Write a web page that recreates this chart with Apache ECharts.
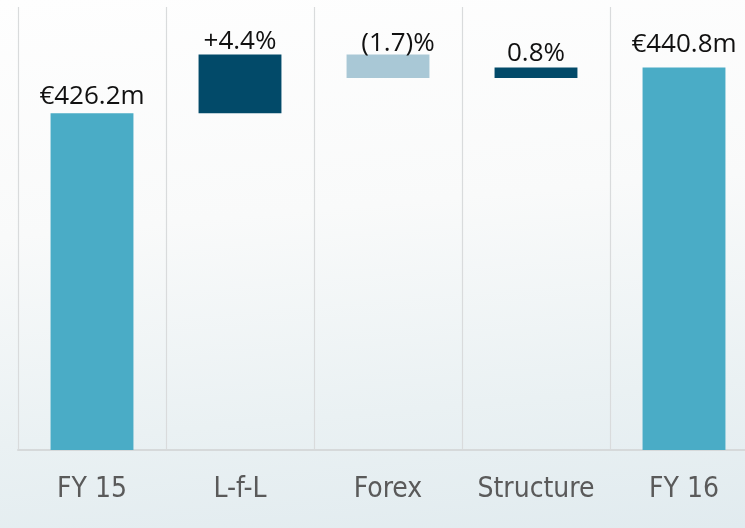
<!DOCTYPE html>
<html>
<head>
<meta charset="utf-8">
<script src="https://cdn.jsdelivr.net/npm/echarts@6/dist/echarts.min.js"></script>
<style>
  html, body { margin: 0; padding: 0; }
  #chart {
    width: 745px; height: 528px;
    background: linear-gradient(175deg, #fefefe 0%, #f9fafa 40%, #eaf1f3 75%, #e1ebef 100%);
  }
</style>
</head>
<body>
<div id="chart"></div>
<script>
// ---- data ----
const categories = ['FY 15', 'L-f-L', 'Forex', 'Structure', 'FY 16'];
const startValue = 426.2;            // FY 15 (€m)
const changes = [18.7, -7.5, 3.4];   // L-f-L, Forex, Structure (€m)
const endValue = 440.8;              // FY 16 (€m)
const valueLabels = ['€426.2m', '+4.4%', '(1.7)%', '0.8%', '€440.8m'];

// ---- styles ----
const totalColor = '#4aacc6';
const upColor = '#024a69';
const downColor = '#a9c8d6';
const labelDistance = [4, 0, -2, 1, 10];
const labelOffsetX = [0, 0, 10, 0, 0];

// build waterfall stacks
const baseData = [0];
const barData = [startValue];
const colors = [totalColor];
let running = startValue;
changes.forEach(function (c) {
  const next = running + c;
  baseData.push(Math.min(running, next));
  barData.push(Math.abs(c));
  colors.push(c >= 0 ? upColor : downColor);
  running = next;
});
baseData.push(0);
barData.push(endValue);
colors.push(totalColor);

const chart = echarts.init(document.getElementById('chart'), null, { renderer: 'canvas' });
chart.setOption({
  backgroundColor: 'transparent',
  animation: false,
  grid: { left: 18, right: -13, top: 7, bottom: 78, containLabel: false, outerBoundsMode: 'none' },
  xAxis: {
    type: 'category',
    data: categories,
    axisTick: { show: false },
    axisLine: { show: true, lineStyle: { color: '#d6d9da', width: 2 } },
    splitLine: { show: true, interval: 0, lineStyle: { color: '#d9dbdc', width: 1.2 } },
    axisLabel: {
      interval: 0,
      hideOverlap: false,
      color: '#5a5a5a',
      fontFamily: 'DejaVu Sans Condensed, DejaVu Sans',
      fontSize: 28,
      margin: 26
    }
  },
  yAxis: {
    type: 'value',
    min: 319.2,
    max: 460,
    show: false,
    splitLine: { show: false }
  },
  series: [
    {
      type: 'bar',
      stack: 'wf',
      data: baseData,
      itemStyle: { color: 'transparent' },
      emphasis: { disabled: true },
      silent: true,
      barWidth: '56%'
    },
    {
      type: 'bar',
      stack: 'wf',
      barWidth: '56%',
      data: barData.map(function (v, i) {
        return {
          value: v,
          itemStyle: { color: colors[i] },
          label: {
            show: true,
            position: 'top',
            distance: labelDistance[i],
            offset: [labelOffsetX[i], 0],
            formatter: valueLabels[i],
            color: '#111111',
            fontFamily: 'Open Sans',
            fontSize: 26
          }
        };
      })
    }
  ]
});
</script>
</body>
</html>
